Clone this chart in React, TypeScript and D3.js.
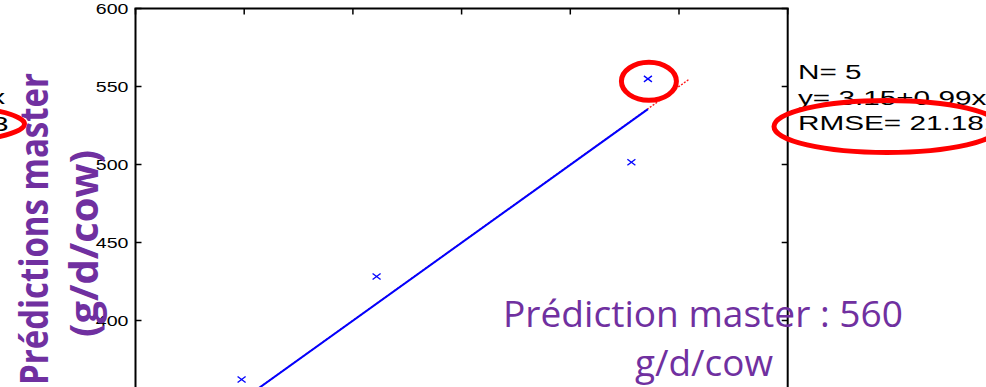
import React, { useEffect } from "react";
import * as d3 from "d3";

// ---- data ----
const measured = [535.7, 528.1, 410.9, 348.8, 372.0];
const predicted = [554.9, 501.5, 428.2, 362.2, 343.0];
// regression as drawn in the picture (labelled y= 3.15+0.99x after rounding)
const fitIntercept = 0.3;
const fitSlope = 0.999;
const xTicks = [300, 350, 400, 450, 500, 550, 600];
const yTicks = [300, 350, 400, 450, 500, 550, 600];
const yTickLabels = [400, 450, 500, 550, 600];
const statLines = ["N= 5", "y= 3.15+0.99x", "RMSE= 21.1817"];
const leftStatLines = ["y= 2.72+0.98x", "RMSE= 26.13"];
const axisLabel = ["Prédictions master", "(g/d/cow)"];
const calloutLines = ["Prédiction master : 560", "g/d/cow"];

const W = 986;
const H = 387;
const PL = 135.5, PR = 787.7, PT = 8.5, PB = 476.5;
const PURPLE = "#7030A0";
const SX = 1.35;

export default function App() {
  useEffect(() => {
    document.body.style.margin = "0";
  }, []);

  const x = d3.scaleLinear().domain([300, 600]).range([PL, PR]);
  const y = d3.scaleLinear().domain([300, 600]).range([PB, PT]);

  const xMin = d3.min(measured) as number;
  const xMax = d3.max(measured) as number;
  const allMin = Math.min(d3.min(measured) as number, d3.min(predicted) as number);
  const allMax = Math.max(d3.max(measured) as number, d3.max(predicted) as number);

  const line = d3.line<[number, number]>().x((d) => x(d[0])).y((d) => y(d[1]));
  const fitPath = line([
    [xMin, fitIntercept + fitSlope * xMin],
    [xMax, fitIntercept + fitSlope * xMax],
  ]);
  const idPath = line([
    [allMin, allMin],
    [allMax, allMax],
  ]);

  const tickLen = 6;
  const maxIdx = predicted.indexOf(d3.max(predicted) as number);

  return (
    <svg
      width={W}
      height={H}
      style={{ position: "fixed", left: 0, top: 0, display: "block", background: "#fff" }}
    >
      <rect x={0} y={0} width={W} height={H} fill="#fff" />

      {/* identity line */}
      <path d={idPath || ""} stroke="#ff1a1a" strokeWidth={1.4} strokeDasharray="2,1.5" fill="none" />
      {/* fit line */}
      <path d={fitPath || ""} stroke="#0000ff" strokeWidth={2} fill="none" />

      {/* points */}
      {measured.map((mx, i) => {
        const cx = x(mx);
        const cy = y(predicted[i]);
        return (
          <g key={i} stroke="#0000ff" strokeWidth={1.3}>
            <line x1={cx - 4} y1={cy - 3} x2={cx + 4} y2={cy + 3} />
            <line x1={cx - 4} y1={cy + 3} x2={cx + 4} y2={cy - 3} />
          </g>
        );
      })}

      {/* axes box */}
      <g stroke="#000" strokeWidth={2} fill="none">
        <line x1={PL} y1={PT} x2={PL} y2={PB} />
        <line x1={PL - 1} y1={PT} x2={PR + 1} y2={PT} />
        <line x1={PR} y1={PT} x2={PR} y2={PB} />
        <line x1={PL} y1={PB} x2={PR} y2={PB} />
      </g>
      <g stroke="#000" strokeWidth={1.5}>
        {yTicks.map((t) => (
          <g key={"y" + t}>
            <line x1={PL} x2={PL + tickLen} y1={y(t)} y2={y(t)} />
            <line x1={PR} x2={PR - tickLen} y1={y(t)} y2={y(t)} />
          </g>
        ))}
        {xTicks.map((t) => (
          <g key={"x" + t}>
            <line x1={x(t)} x2={x(t)} y1={PT} y2={PT + tickLen} />
            <line x1={x(t)} x2={x(t)} y1={PB} y2={PB - tickLen} />
          </g>
        ))}
      </g>
      {/* y tick labels */}
      {yTickLabels.map((t) => (
        <text
          key={"yl" + t}
          transform={`translate(${PL - 7},${y(t) + 5.2}) scale(${SX},1)`}
          textAnchor="end"
          fontFamily="'Liberation Sans', Arial, sans-serif"
          fontSize={14.5}
          fill="#000"
        >
          {t}
        </text>
      ))}

      {/* right stats */}
      {statLines.map((s, i) => (
        <text
          key={"s" + i}
          transform={`translate(798,${79 + i * 25.5}) scale(1.45,1)`}
          fontFamily="'Liberation Sans', Arial, sans-serif"
          fontSize={20.5}
          fill="#000"
        >
          {s}
        </text>
      ))}
      {/* left neighbouring stats (cropped) */}
      {leftStatLines.map((s, i) => (
        <text
          key={"ls" + i}
          transform={`translate(${i === 0 ? 5 : 8.5},${103.5 + i * 27}) scale(1.45,1)`}
          textAnchor="end"
          fontFamily="'Liberation Sans', Arial, sans-serif"
          fontSize={20.5}
          fill="#000"
        >
          {s}
        </text>
      ))}

      {/* red callout ellipses */}
      <g stroke="#ff0000" strokeWidth={5} fill="none">
        <ellipse cx={x(measured[maxIdx]) + 1} cy={y(predicted[maxIdx]) + 2.5} rx={27.5} ry={19} />
        <ellipse cx={887} cy={126.5} rx={113} ry={26} />
        <ellipse cx={-88.5} cy={124} rx={113} ry={20} />
      </g>

      {/* purple rotated axis label */}
      <text
        transform="translate(47.5,73) rotate(-90)"
        textAnchor="end"
        fontFamily="'Open Sans', sans-serif"
        fontWeight="bold"
        fontSize={40}
        fill={PURPLE}
        textLength={312}
        lengthAdjust="spacingAndGlyphs"
      >
        {axisLabel[0]}
      </text>
      <text
        transform="translate(98,150) rotate(-90)"
        textAnchor="end"
        fontFamily="'Open Sans', sans-serif"
        fontWeight="bold"
        fontSize={40}
        fill={PURPLE}
        textLength={187}
        lengthAdjust="spacingAndGlyphs"
      >
        {axisLabel[1]}
      </text>

      {/* purple callout */}
      <text
        x={703}
        y={327}
        textAnchor="middle"
        fontFamily="'Open Sans', sans-serif"
        fontSize={36}
        fill={PURPLE}
        textLength={400}
        lengthAdjust="spacingAndGlyphs"
      >
        {calloutLines[0]}
      </text>
      <text
        x={704}
        y={376}
        textAnchor="middle"
        fontFamily="'Open Sans', sans-serif"
        fontSize={36}
        fill={PURPLE}
        textLength={138}
        lengthAdjust="spacingAndGlyphs"
      >
        {calloutLines[1]}
      </text>
    </svg>
  );
}
